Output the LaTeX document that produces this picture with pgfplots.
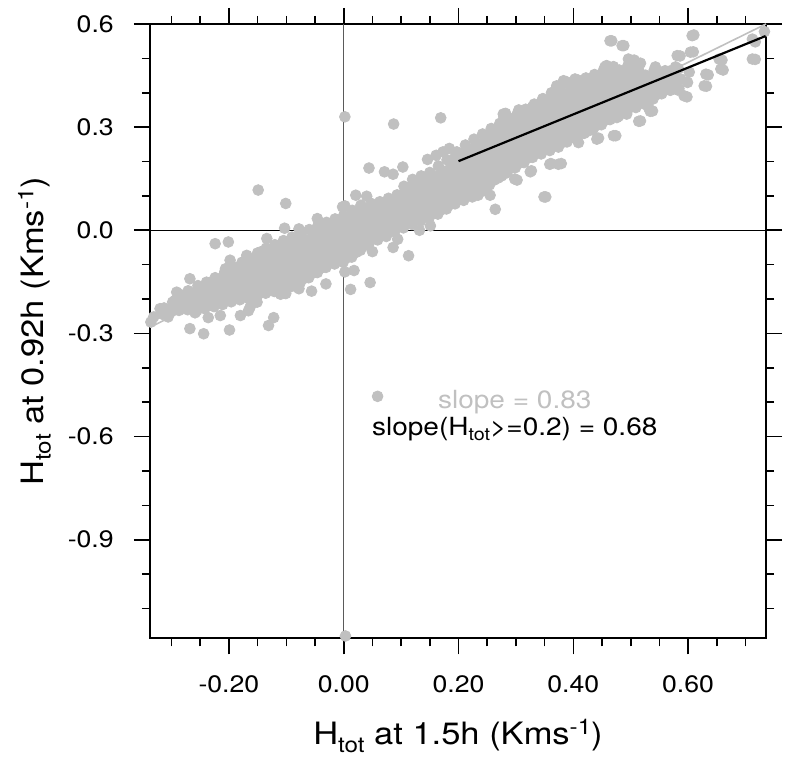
\documentclass[border=0pt]{standalone}
\usepackage{fontspec}
\setmainfont{TeX Gyre Heros}[FakeStretch=1.12]
\usepackage{pgfplots}
\pgfplotsset{compat=1.18}
\definecolor{ptgray}{RGB}{192,192,192}
\definecolor{zgray}{RGB}{90,90,90}
\newcommand{\mysub}[2]{\raisebox{-0.23em}{\fontsize{#1}{#1}\selectfont #2}}
\newcommand{\mysup}[2]{\raisebox{0.33em}{\fontsize{#1}{#1}\selectfont #2}}
\begin{document}
\begin{tikzpicture}
\path[use as bounding box] (-75pt,-59.85pt) rectangle (317.5pt,319.2pt);
\begin{axis}[
  at={(0,0)}, anchor=south west,
  scale only axis, width=308pt, height=307.2pt,
  xmin=-0.3375, xmax=0.7357, ymin=-1.187, ymax=0.6,
  clip=false, clip marker paths=true,
  axis line style={line width=1pt},
  tick align=outside, tick pos=both,
  major tick length=8pt, minor tick length=4pt,
  every tick/.style={black, line width=0.8pt},
  xtick={-0.2,0,0.2,0.4,0.6},
  minor xtick={-0.30,-0.25,-0.15,-0.10,-0.05,0.05,0.10,0.15,0.25,0.30,0.35,0.45,0.50,0.55,0.65,0.70},
  ytick={-0.9,-0.6,-0.3,0,0.3,0.6},
  minor ytick={0.5,0.4,0.2,0.1,-0.1,-0.2,-0.4,-0.5,-0.7,-0.8,-1.0,-1.1},
  xticklabel pos=lower, yticklabel pos=left,
  /pgf/number format/assume math mode=true,
  xticklabel style={/pgf/number format/.cd, fixed, fixed zerofill, precision=2, /tikz/.cd, font=\fontsize{11.9}{13}\selectfont, yshift=-7pt},
  yticklabel style={/pgf/number format/.cd, fixed, fixed zerofill, precision=1, /tikz/.cd, font=\fontsize{11.9}{13}\selectfont, xshift=-6.6pt},
  xlabel={H\mysub{10.8}{tot} at 1.5h (Kms\mysup{10.8}{-1})},
  ylabel={H\mysub{10.8}{tot} at 0.92h (Kms\mysup{10.8}{-1})},
  every axis x label/.style={at={(axis description cs:0.5,-0.1735)}, anchor=base, font=\fontsize{15.4}{18}\selectfont},
  every axis y label/.style={at={(axis description cs:-0.1729,0.5)}, rotate=90, anchor=base, font=\fontsize{15.4}{18}\selectfont},
]
% zero lines
\addplot[zgray, line width=0.6pt] coordinates {(0,-1.187) (0,0.6)};
\addplot[black, line width=0.6pt] coordinates {(-0.3375,0) (0.7357,0)};
% scatter
\addplot[only marks, mark=*, mark size=2.7pt, color=ptgray, mark options={draw=ptgray, fill=ptgray, line width=0.4pt}] coordinates {
(-0.331,-0.252) (-0.316,-0.244) (-0.313,-0.226) (-0.302,-0.238) (-0.298,-0.209)
(-0.287,-0.233) (-0.283,-0.206) (-0.286,-0.186) (-0.272,-0.231) (-0.268,-0.204) (-0.271,-0.176)
(-0.256,-0.234) (-0.253,-0.206) (-0.257,-0.179) (-0.254,-0.161)
(-0.242,-0.228) (-0.238,-0.199) (-0.241,-0.171) (-0.239,-0.151)
(-0.226,-0.222) (-0.223,-0.196) (-0.227,-0.166) (-0.224,-0.138)
(-0.211,-0.216) (-0.208,-0.187) (-0.212,-0.159) (-0.209,-0.131) (-0.207,-0.120)
(-0.196,-0.208) (-0.193,-0.181) (-0.197,-0.152) (-0.194,-0.125) (-0.192,-0.106)
(-0.181,-0.202) (-0.178,-0.174) (-0.182,-0.147) (-0.179,-0.118) (-0.177,-0.093)
(-0.166,-0.198) (-0.163,-0.170) (-0.167,-0.141) (-0.164,-0.113) (-0.162,-0.084)
(-0.151,-0.193) (-0.148,-0.166) (-0.152,-0.136) (-0.149,-0.108) (-0.147,-0.080) (-0.150,-0.066)
(-0.136,-0.183) (-0.133,-0.154) (-0.137,-0.127) (-0.134,-0.098) (-0.132,-0.071) (-0.135,-0.052)
(-0.121,-0.178) (-0.118,-0.149) (-0.122,-0.121) (-0.119,-0.094) (-0.117,-0.065) (-0.120,-0.042)
(-0.106,-0.172) (-0.103,-0.145) (-0.107,-0.116) (-0.104,-0.088) (-0.102,-0.060) (-0.105,-0.030)
(-0.091,-0.163) (-0.088,-0.134) (-0.092,-0.106) (-0.089,-0.078) (-0.087,-0.050) (-0.090,-0.020)
(-0.076,-0.153) (-0.073,-0.125) (-0.077,-0.097) (-0.074,-0.069) (-0.072,-0.041) (-0.075,-0.013) (-0.073,-0.005)
(-0.061,-0.138) (-0.058,-0.110) (-0.062,-0.082) (-0.059,-0.054) (-0.057,-0.026) (-0.060,0.002)
(-0.046,-0.123) (-0.043,-0.095) (-0.047,-0.067) (-0.044,-0.039) (-0.042,-0.011) (-0.045,0.013)
(-0.031,-0.108) (-0.028,-0.080) (-0.032,-0.052) (-0.029,-0.024) (-0.027,0.004) (-0.030,0.023)
(-0.016,-0.098) (-0.013,-0.070) (-0.017,-0.042) (-0.014,-0.014) (-0.012,0.014) (-0.015,0.033)
(-0.001,-0.093) (0.002,-0.065) (-0.002,-0.037) (0.001,-0.009) (0.003,0.019) (0.000,0.043)
(0.014,-0.078) (0.017,-0.050) (0.013,-0.022) (0.016,0.006) (0.018,0.034) (0.015,0.058)
(0.029,-0.058) (0.032,-0.030) (0.028,-0.002) (0.031,0.026) (0.033,0.054) (0.030,0.073)
(0.044,-0.038) (0.047,-0.010) (0.043,0.018) (0.046,0.046) (0.048,0.078)
(0.059,-0.028) (0.062,0.000) (0.058,0.028) (0.061,0.056) (0.063,0.083)
(0.074,-0.018) (0.077,0.010) (0.073,0.038) (0.076,0.066) (0.078,0.093)
(0.089,-0.003) (0.092,0.025) (0.088,0.053) (0.091,0.081) (0.093,0.103)
(0.104,0.007) (0.107,0.035) (0.103,0.063) (0.106,0.091) (0.108,0.119) (0.105,0.128)
(0.119,0.017) (0.122,0.045) (0.118,0.073) (0.121,0.101) (0.123,0.129) (0.120,0.148)
(0.134,0.027) (0.137,0.055) (0.133,0.083) (0.136,0.111) (0.138,0.139) (0.135,0.158)
(0.149,0.037) (0.152,0.065) (0.148,0.093) (0.151,0.121) (0.153,0.149) (0.150,0.168)
(0.164,0.047) (0.167,0.075) (0.163,0.103) (0.166,0.131) (0.168,0.159) (0.165,0.187)
(0.179,0.062) (0.182,0.090) (0.178,0.118) (0.181,0.146) (0.183,0.174) (0.180,0.205)
(0.194,0.077) (0.197,0.105) (0.193,0.133) (0.196,0.161) (0.198,0.189) (0.195,0.217) (0.197,0.228)
(0.209,0.087) (0.212,0.115) (0.208,0.143) (0.211,0.171) (0.213,0.199) (0.210,0.227) (0.212,0.248)
(0.224,0.097) (0.227,0.125) (0.223,0.153) (0.226,0.181) (0.228,0.209) (0.225,0.237) (0.227,0.265)
(0.239,0.112) (0.242,0.140) (0.238,0.168) (0.241,0.196) (0.243,0.224) (0.240,0.252) (0.242,0.280)
(0.254,0.132) (0.257,0.160) (0.253,0.188) (0.256,0.216) (0.258,0.244) (0.255,0.272) (0.257,0.296)
(0.269,0.152) (0.272,0.180) (0.268,0.208) (0.271,0.236) (0.273,0.264) (0.270,0.292) (0.272,0.311)
(0.284,0.167) (0.287,0.195) (0.283,0.223) (0.286,0.251) (0.288,0.279) (0.285,0.307) (0.287,0.327)
(0.299,0.182) (0.302,0.210) (0.298,0.238) (0.301,0.266) (0.303,0.294) (0.300,0.322) (0.302,0.337)
(0.314,0.197) (0.317,0.225) (0.313,0.253) (0.316,0.281) (0.318,0.309) (0.315,0.337) (0.317,0.352)
(0.329,0.212) (0.332,0.240) (0.328,0.268) (0.331,0.296) (0.333,0.324) (0.330,0.352) (0.332,0.367)
(0.344,0.222) (0.347,0.250) (0.343,0.278) (0.346,0.306) (0.348,0.334) (0.345,0.362) (0.347,0.383)
(0.359,0.232) (0.362,0.260) (0.358,0.288) (0.361,0.316) (0.363,0.344) (0.360,0.372) (0.362,0.400)
(0.374,0.242) (0.377,0.270) (0.373,0.298) (0.376,0.326) (0.378,0.354) (0.375,0.382) (0.377,0.410) (0.376,0.418)
(0.389,0.257) (0.392,0.285) (0.388,0.313) (0.391,0.341) (0.393,0.369) (0.390,0.397) (0.392,0.425)
(0.404,0.267) (0.407,0.295) (0.403,0.323) (0.406,0.351) (0.408,0.379) (0.405,0.407) (0.407,0.432)
(0.419,0.282) (0.422,0.310) (0.418,0.338) (0.421,0.366) (0.423,0.394) (0.420,0.422) (0.422,0.443)
(0.434,0.292) (0.437,0.320) (0.433,0.348) (0.436,0.376) (0.438,0.404) (0.435,0.432) (0.437,0.453)
(0.449,0.307) (0.452,0.335) (0.448,0.363) (0.451,0.391) (0.453,0.419) (0.450,0.447) (0.452,0.463)
(0.464,0.322) (0.467,0.350) (0.463,0.378) (0.466,0.406) (0.468,0.434) (0.465,0.462)
(0.479,0.332) (0.482,0.360) (0.478,0.388) (0.481,0.416) (0.483,0.444) (0.480,0.466)
(0.494,0.347) (0.497,0.375) (0.493,0.403) (0.496,0.431) (0.498,0.459) (0.495,0.478)
(0.509,0.357) (0.512,0.385) (0.508,0.413) (0.511,0.441) (0.513,0.469) (0.510,0.480)
(0.524,0.367) (0.527,0.395) (0.523,0.423) (0.526,0.451)
(0.539,0.382) (0.542,0.410) (0.538,0.438) (0.541,0.466)
(0.554,0.397) (0.557,0.425) (0.553,0.453)
(0.569,0.407) (0.572,0.435) (0.568,0.463)
(0.584,0.412) (0.587,0.440) (0.583,0.470)
(0.599,0.430) (0.602,0.460)
(-0.307,-0.235) (-0.292,-0.224) (-0.278,-0.220) (-0.278,-0.196) (-0.263,-0.218) (-0.263,-0.190)
(-0.248,-0.220) (-0.248,-0.193) (-0.248,-0.170) (-0.233,-0.214) (-0.233,-0.185) (-0.233,-0.161)
(-0.218,-0.209) (-0.218,-0.181) (-0.218,-0.152) (-0.203,-0.202) (-0.203,-0.173) (-0.203,-0.145) (-0.203,-0.126)
(-0.188,-0.195) (-0.188,-0.167) (-0.188,-0.139) (-0.188,-0.116) (-0.173,-0.188) (-0.173,-0.161) (-0.173,-0.133) (-0.173,-0.106)
(-0.158,-0.184) (-0.158,-0.156) (-0.158,-0.127) (-0.158,-0.099) (-0.143,-0.180) (-0.143,-0.151) (-0.143,-0.122) (-0.143,-0.094) (-0.143,-0.073)
(-0.128,-0.169) (-0.128,-0.141) (-0.128,-0.113) (-0.128,-0.085) (-0.128,-0.062) (-0.113,-0.164) (-0.113,-0.135) (-0.113,-0.108) (-0.113,-0.080) (-0.113,-0.054)
(-0.098,-0.159) (-0.098,-0.131) (-0.098,-0.102) (-0.098,-0.074) (-0.098,-0.045) (-0.083,-0.149) (-0.083,-0.120) (-0.083,-0.092) (-0.083,-0.064) (-0.083,-0.035)
(-0.068,-0.139) (-0.068,-0.111) (-0.068,-0.083) (-0.068,-0.055) (-0.068,-0.027) (-0.053,-0.124) (-0.053,-0.096) (-0.053,-0.068) (-0.053,-0.040) (-0.053,-0.012)
(-0.038,-0.109) (-0.038,-0.081) (-0.038,-0.053) (-0.038,-0.025) (-0.038,0.001) (-0.023,-0.094) (-0.023,-0.066) (-0.023,-0.038) (-0.023,-0.010) (-0.023,0.013)
(-0.008,-0.084) (-0.008,-0.056) (-0.008,-0.028) (-0.008,0.000) (-0.008,0.023) (0.007,-0.079) (0.007,-0.051) (0.007,-0.023) (0.007,0.005) (0.007,0.031)
(0.022,-0.064) (0.022,-0.036) (0.022,-0.008) (0.022,0.020) (0.022,0.046) (0.037,-0.044) (0.037,-0.016) (0.037,0.012) (0.037,0.040) (0.037,0.063)
(0.052,-0.024) (0.052,0.004) (0.052,0.032) (0.052,0.062) (0.067,-0.014) (0.067,0.014) (0.067,0.042) (0.067,0.070)
(0.082,-0.004) (0.082,0.024) (0.082,0.052) (0.082,0.080) (0.097,0.011) (0.097,0.039) (0.097,0.067) (0.097,0.092)
(0.112,0.021) (0.112,0.049) (0.112,0.077) (0.112,0.105) (0.112,0.124) (0.127,0.031) (0.127,0.059) (0.127,0.087) (0.127,0.115) (0.127,0.138)
(0.142,0.041) (0.142,0.069) (0.142,0.097) (0.142,0.125) (0.142,0.148) (0.157,0.051) (0.157,0.079) (0.157,0.107) (0.157,0.135) (0.157,0.158)
(0.172,0.061) (0.172,0.089) (0.172,0.117) (0.172,0.145) (0.172,0.173) (0.187,0.076) (0.187,0.104) (0.187,0.132) (0.187,0.160) (0.187,0.190)
(0.202,0.091) (0.202,0.119) (0.202,0.147) (0.202,0.175) (0.202,0.203) (0.217,0.101) (0.217,0.129) (0.217,0.157) (0.217,0.185) (0.217,0.213) (0.217,0.237)
(0.232,0.111) (0.232,0.139) (0.232,0.167) (0.232,0.195) (0.232,0.223) (0.232,0.251) (0.247,0.126) (0.247,0.154) (0.247,0.182) (0.247,0.210) (0.247,0.238) (0.247,0.266)
(0.262,0.146) (0.262,0.174) (0.262,0.202) (0.262,0.230) (0.262,0.258) (0.262,0.284) (0.277,0.166) (0.277,0.194) (0.277,0.222) (0.277,0.250) (0.277,0.278) (0.277,0.301)
(0.292,0.181) (0.292,0.209) (0.292,0.237) (0.292,0.265) (0.292,0.293) (0.292,0.317) (0.307,0.196) (0.307,0.224) (0.307,0.252) (0.307,0.280) (0.307,0.308) (0.307,0.330)
(0.322,0.211) (0.322,0.239) (0.322,0.267) (0.322,0.295) (0.322,0.323) (0.322,0.345) (0.337,0.226) (0.337,0.254) (0.337,0.282) (0.337,0.310) (0.337,0.338) (0.337,0.360)
(0.352,0.236) (0.352,0.264) (0.352,0.292) (0.352,0.320) (0.352,0.348) (0.352,0.373) (0.367,0.246) (0.367,0.274) (0.367,0.302) (0.367,0.330) (0.367,0.358) (0.367,0.386)
(0.382,0.256) (0.382,0.284) (0.382,0.312) (0.382,0.340) (0.382,0.368) (0.382,0.396) (0.397,0.271) (0.397,0.299) (0.397,0.327) (0.397,0.355) (0.397,0.383) (0.397,0.411)
(0.412,0.281) (0.412,0.309) (0.412,0.337) (0.412,0.365) (0.412,0.393) (0.412,0.420) (0.427,0.296) (0.427,0.324) (0.427,0.352) (0.427,0.380) (0.427,0.408) (0.427,0.433)
(0.442,0.306) (0.442,0.334) (0.442,0.362) (0.442,0.390) (0.442,0.418) (0.442,0.443) (0.457,0.321) (0.457,0.349) (0.457,0.377) (0.457,0.405) (0.457,0.433) (0.457,0.455)
(0.472,0.336) (0.472,0.364) (0.472,0.392) (0.472,0.420) (0.472,0.448) (0.487,0.346) (0.487,0.374) (0.487,0.402) (0.487,0.430) (0.487,0.455)
(0.502,0.361) (0.502,0.389) (0.502,0.417) (0.502,0.445) (0.502,0.468) (0.517,0.371) (0.517,0.399) (0.517,0.427) (0.517,0.455)
(0.532,0.381) (0.532,0.409) (0.532,0.437) (0.547,0.396) (0.547,0.424) (0.547,0.452) (0.562,0.411) (0.562,0.439) (0.577,0.421) (0.577,0.449)
(0.002,0.330) (0.087,0.309) (0.169,0.327) (0.044,0.181) (0.071,0.170) (0.086,0.163) (0.103,0.184)
(0.146,0.206) (0.161,0.218) (0.173,0.228) (0.184,0.238) (-0.149,0.117) (-0.101,0.078)
(-0.224,-0.039) (-0.201,-0.034) (-0.268,-0.141) (-0.291,-0.180) (-0.294,-0.204) (-0.320,-0.228)
(-0.336,-0.267) (-0.306,-0.252) (-0.268,-0.286) (-0.244,-0.301) (-0.199,-0.290) (-0.131,-0.277)
(-0.122,-0.254) (-0.078,-0.170) (-0.056,-0.177) (-0.031,-0.156) (0.012,-0.172) (0.046,-0.152)
(0.018,-0.117) (0.002,-0.121) (0.050,-0.062) (0.086,-0.050) (0.113,-0.074) (0.094,-0.026)
(0.132,0.000) (0.151,0.013) (0.021,0.102) (0.040,0.099) (0.002,0.071) (-0.046,0.034)
(-0.103,0.006) (-0.134,-0.024) (-0.078,0.004) (-0.180,-0.248) (-0.166,-0.234) (-0.215,-0.248)
(-0.236,-0.254) (-0.259,-0.240) (-0.081,-0.165) (-0.101,-0.184) (-0.110,-0.186) (-0.230,-0.150)
(-0.262,-0.214) (-0.279,-0.204) (-0.288,-0.223) (-0.256,-0.194) (-0.163,-0.223) (-0.151,-0.209)
(-0.198,-0.087) (-0.206,-0.112) (-0.169,-0.073) (-0.145,-0.063) (-0.040,-0.087) (0.003,-0.068)
(-0.023,0.020) (-0.002,0.068)
(0.467,0.551) (0.488,0.537) (0.610,0.568) (0.609,0.519) (0.586,0.507) (0.659,0.495) (0.661,0.466)
(0.717,0.548) (0.717,0.497) (0.733,0.578) (0.635,0.452) (0.632,0.419) (0.598,0.388) (0.538,0.347)
(0.517,0.318) (0.474,0.275) (0.444,0.268) (0.352,0.097) (0.264,0.061) (0.234,0.102) (0.255,0.102)
(0.361,0.194) (0.379,0.194) (0.279,0.165) (0.302,0.146) (0.325,0.170) (0.278,0.338) (0.455,0.475)
(0.446,0.446) (0.496,0.498) (0.508,0.489) (0.543,0.475) (0.560,0.464) (0.578,0.475) (0.604,0.518)
(0.581,0.508) (0.654,0.498) (0.657,0.469) (0.631,0.454) (0.628,0.420) (0.593,0.391) (0.534,0.346)
(0.514,0.317) (0.470,0.275) (0.441,0.265) (0.349,0.097) (0.374,0.192) (0.359,0.192) (0.327,0.173)
(0.298,0.149) (0.275,0.158) (0.409,0.255) (0.426,0.289) (0.493,0.338) (0.476,0.328) (0.531,0.357)
(0.464,0.551) (0.485,0.537) (0.607,0.566) (0.712,0.556) (0.712,0.498) (0.371,0.420) (0.383,0.435)
(0.403,0.440) (0.415,0.435) (0.458,0.479) (0.576,0.437) (0.558,0.447) (0.582,0.408)
(0.408,0.437) (0.420,0.437) (0.376,0.417) (0.388,0.432) (0.282,0.340) (0.279,0.330)
(0.329,0.359) (0.346,0.379) (0.305,0.350) (0.458,0.471) (0.470,0.476) (0.506,0.495) (0.517,0.486)
(0.059,-0.483) (0.003,-1.180)
};
% regression lines
\addplot[ptgray, line width=0.8pt] coordinates {(-0.3375,-0.282) (0.7357,0.6)};
\addplot[black, line width=1.1pt] coordinates {(0.2,0.201) (0.735,0.565)};
\node[anchor=base, text=ptgray, font=\fontsize{12.5}{14}\selectfont] at (axis cs:0.298,-0.517) {slope = 0.83};
\node[anchor=base, font=\fontsize{12.5}{14}\selectfont] at (axis cs:0.298,-0.596) {slope(H\mysub{8.8}{tot}>=0.2) = 0.68};
\end{axis}
\end{tikzpicture}
\end{document}
